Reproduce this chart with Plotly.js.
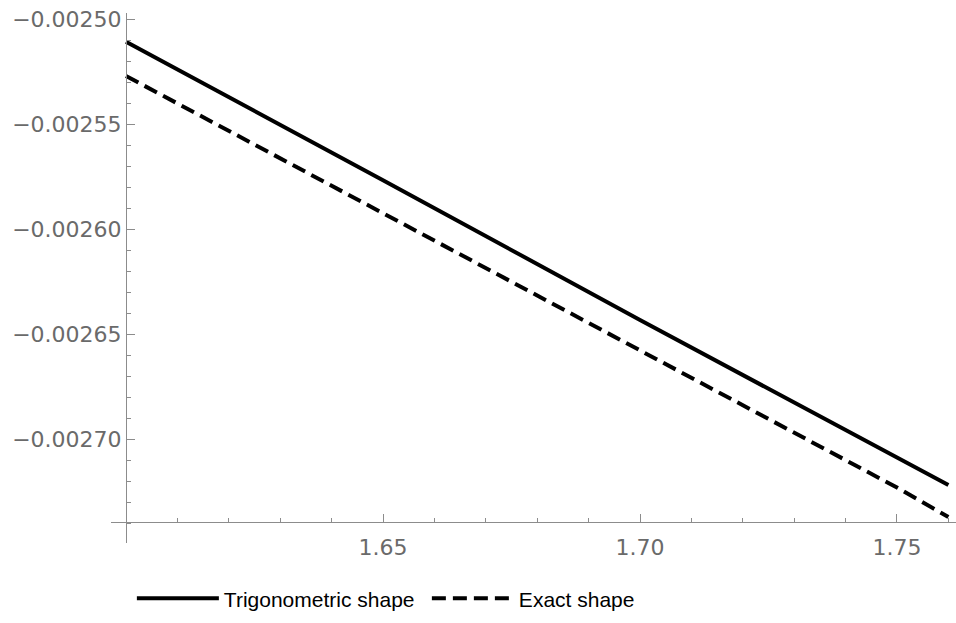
<!DOCTYPE html>
<html>
<head>
<meta charset="utf-8">
<script src="https://cdn.plot.ly/plotly-3.0.1.min.js"></script>
<style>html,body{margin:0;padding:0;background:#fff;}#chart{width:956px;height:623px;}</style>
</head>
<body>
<div id="chart"></div>
<script>
// Data
const xValues = [1.60, 1.65, 1.70, 1.75, 1.76];
const trigShape = [-0.0025108, -0.0025767, -0.0026433, -0.0027084, -0.0027219];
const exactShape = [-0.0025271, -0.0025925, -0.0026578, -0.0027231, -0.0027371];
const seriesNames = ["Trigonometric shape", "Exact shape"];

const xTickVals = [1.65, 1.70, 1.75];
const xTickText = ["1.65", "1.70", "1.75"];
const yTickVals = [-0.00250, -0.00255, -0.00260, -0.00265, -0.00270];
const yTickText = ["\u22120.00250", "\u22120.00255", "\u22120.00260", "\u22120.00265", "\u22120.00270"];

const axisColor = "#8c8c8c";
const labelColor = "#6a6a6a";

const traces = [
  {x: xValues, y: trigShape, name: seriesNames[0], mode: "lines",
   line: {color: "#000", width: 4}},
  {x: xValues, y: exactShape, name: seriesNames[1], mode: "lines",
   line: {color: "#000", width: 4, dash: "14px,7px"}}
];

const layout = {
  width: 956, height: 623,
  margin: {l: 111, r: 0, t: 13, b: 80, pad: 0},
  paper_bgcolor: "#fff", plot_bgcolor: "#fff",
  font: {family: "DejaVu Sans, sans-serif", size: 22, color: labelColor},
  showlegend: true,
  legend: {orientation: "h", x: 0.0247, xanchor: "left", y: -0.105, yanchor: "middle",
           itemwidth: 82, entrywidth: 198, entrywidthmode: "pixels",
           font: {family: "Liberation Sans, Arial, sans-serif", size: 21, color: "#000"},
           bgcolor: "rgba(0,0,0,0)"},
  xaxis: {
    range: [1.59708, 1.76148], anchor: "free", position: 0.0396,
    showgrid: false, zeroline: false, showline: true, linecolor: axisColor, linewidth: 1,
    tickmode: "array", tickvals: xTickVals, ticktext: xTickText,
    ticks: "inside", ticklen: 8, tickcolor: axisColor, tickwidth: 1,
    minor: {tickmode: "linear", tick0: 1.60, dtick: 0.01, ticks: "inside", ticklen: 4, tickcolor: axisColor, tickwidth: 1, showgrid: false},
    tickfont: {family: "DejaVu Sans, sans-serif", size: 22, color: labelColor}, ticklabelstandoff: 6
  },
  yaxis: {
    range: [-0.0027495, -0.0024971], anchor: "free", position: 0.01775,
    showgrid: false, zeroline: false, showline: true, linecolor: axisColor, linewidth: 1,
    tickmode: "array", tickvals: yTickVals, ticktext: yTickText,
    ticks: "inside", ticklen: 8, tickcolor: axisColor, tickwidth: 1,
    minor: {tickmode: "linear", tick0: -0.00250, dtick: 0.00001, ticks: "inside", ticklen: 4, tickcolor: axisColor, tickwidth: 1, showgrid: false},
    tickfont: {family: "DejaVu Sans, sans-serif", size: 22, color: labelColor}
  }
};

Plotly.newPlot("chart", traces, layout, {staticPlot: true, displayModeBar: false});
</script>
</body>
</html>
